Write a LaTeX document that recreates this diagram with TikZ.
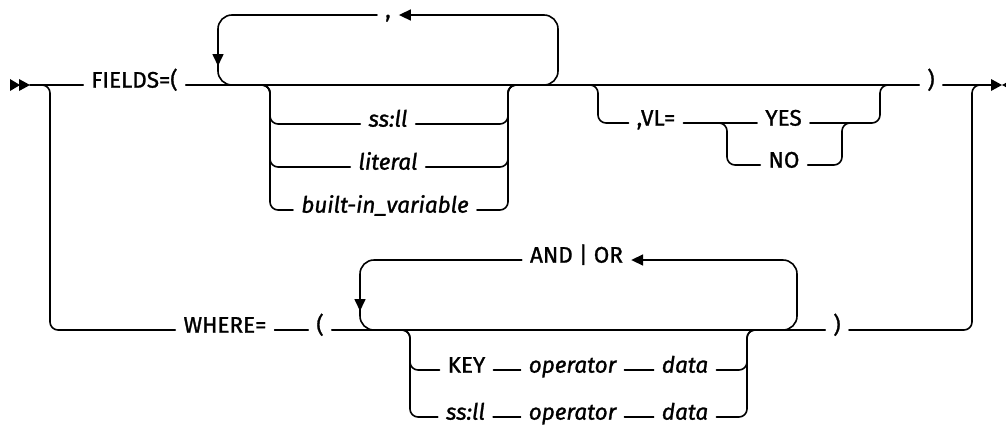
\documentclass[tikz,border=0pt]{standalone}
\usepackage{fontspec}
\setmainfont{Fira Sans}[RawFeature={embolden=1.2}]
\usetikzlibrary{arrows.meta}

\tikzset{
  rail/.style={line width=1.6pt},
  loopback/.style={rail,rounded corners=14pt},
  fork/.style={rail,rounded corners=8pt},
  back/.style={-{Triangle[length=12pt,width=11pt]}},
  kw/.style={anchor=mid,inner xsep=8pt,inner ysep=2pt,font=\fontsize{22.5}{26}\selectfont},
  var/.style={kw,font=\fontsize{22.5}{26}\selectfont\itshape},
}

\begin{document}
\begin{tikzpicture}[x=1pt,y=-1pt,line join=round,line cap=round]
  \useasboundingbox (0,0) rectangle (1006,426);

  % ---- upper track: FIELDS=( ... ) ---------------------------------------
  \node[kw] (fields) at (134.5,85) {FIELDS=(};
  \node[kw] (comma) at (388,15) {,};
  \node[var] (ssll) at (388,124) {ss:ll};
  \node[var] (literal) at (388,167) {literal};
  \node[var] (builtin) at (385,210) {built-in\_variable};
  \node[kw] (vl) at (656,123) {,VL=};
  \node[kw] (yes) at (783.5,123) {YES};
  \node[kw] (no) at (784,165) {NO};
  \node[kw] (fclose) at (931,85) {)};

  \coordinate (start) at (30,85);
  \coordinate (stop) at (991,85);

  \fill (10,79) -- (20,85) -- (10,91) -- cycle;
  \fill (19,79) -- (30,85) -- (19,91) -- cycle;
  \fill (991,79) -- (1002,85) -- (991,91) -- cycle;
  \fill (1013,79) -- (1002,85) -- (1013,91) -- cycle;

  \draw[rail] (start) -- (fields.mid west);
  \draw[rail] (fields.mid east) -- (fclose.mid west);
  \draw[rail] (fclose.mid east) -- (stop);

  % repeat with ","
  \draw[loopback,back] (545,85) -| (558,15) -- (comma.mid east);
  \draw[loopback,back] (comma.mid west) -| (218,66);
  \draw[loopback] (218,60) |- (232,85);

  \foreach \n/\y in {ssll/124,literal/167,builtin/210}{
    \draw[fork] (258,85) -| (270,\y) -- (\n.mid west);
    \draw[fork] (\n.mid east) -| (508,85) -- (520,85);
  }

  % ,VL= YES | NO
  \draw[fork] (585,85) -| (598,123) -- (vl.mid west);
  \draw[rail] (vl.mid east) -- (yes.mid west);
  \draw[fork] (715,123) -| (727,165) -- (no.mid west);
  \draw[fork] (no.mid east) -| (842,123) -- (854,123);
  \draw[fork] (yes.mid east) -| (880,85) -- (892,85);

  % ---- lower track: WHERE= ( ... ) ---------------------------------------
  \node[kw] (where) at (225,330) {WHERE=};
  \node[kw] (wopen) at (320,330) {(};
  \node[kw] (andor) at (576.5,260) {AND | OR};
  \node[kw] (key) at (466.5,370) {KEY};
  \node[var] (op) at (572.5,370) {operator};
  \node[var] (data) at (685,370) {data};
  \node[var] (ssllw) at (465.5,417) {ss:ll};
  \node[var] (opw) at (572.5,417) {operator};
  \node[var] (dataw) at (685,417) {data};
  \node[kw] (wclose) at (837,330) {)};

  \draw[fork] (38,85) -| (50,330) -- (where.mid west);
  \draw[rail] (where.mid east) -- (wopen.mid west);
  \draw[rail] (wopen.mid east) -- (wclose.mid west);
  \draw[fork] (wclose.mid east) -| (972,85) -- (984,85);

  % repeat with AND | OR
  \draw[loopback,back] (784,330) -| (797,260) -- (andor.mid east);
  \draw[loopback,back] (andor.mid west) -| (360,311);
  \draw[loopback] (360,305) |- (375,330);

  \draw[fork] (398,330) -| (410,370) -- (key.mid west);
  \draw[rail] (key.mid east) -- (op.mid west);
  \draw[rail] (op.mid east) -- (data.mid west);
  \draw[fork] (data.mid east) -| (747,330) -- (759,330);

  \draw[fork] (398,330) -| (410,417) -- (ssllw.mid west);
  \draw[rail] (ssllw.mid east) -- (opw.mid west);
  \draw[rail] (opw.mid east) -- (dataw.mid west);
  \draw[fork] (dataw.mid east) -| (747,330) -- (759,330);

\end{tikzpicture}
\end{document}
